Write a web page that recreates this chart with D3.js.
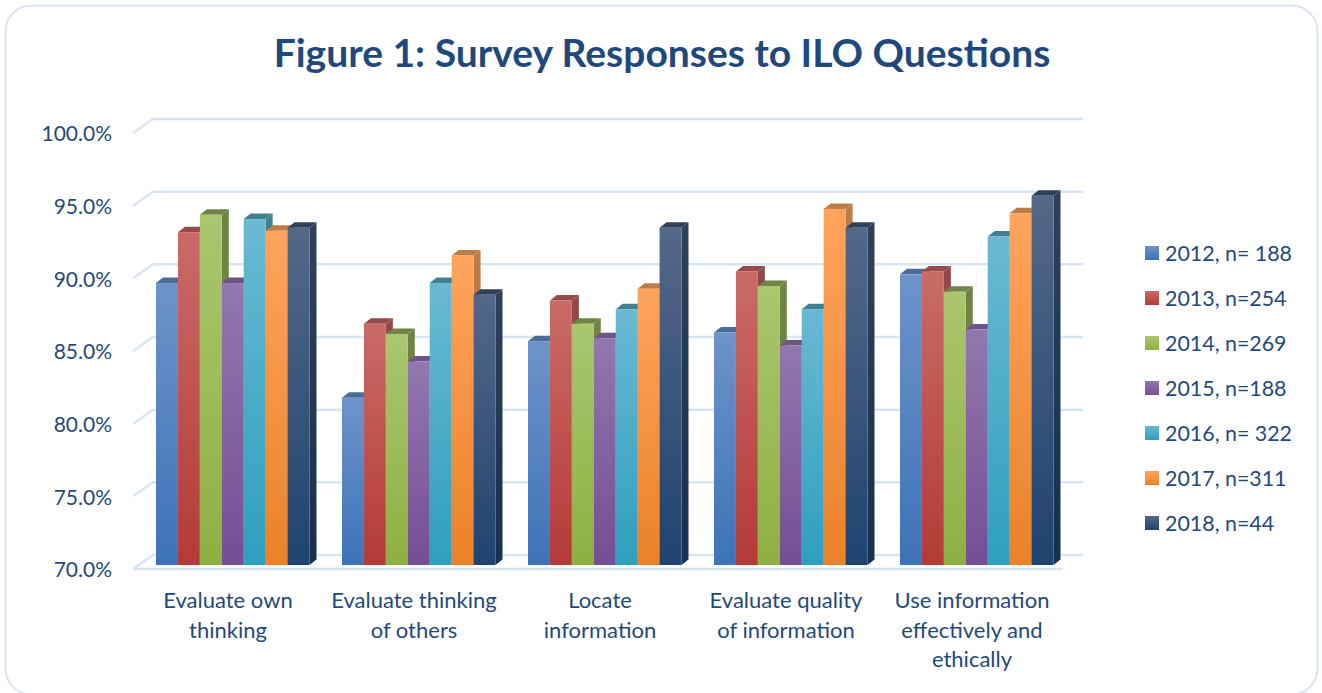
<!DOCTYPE html>
<html>
<head>
<meta charset="utf-8">
<script src="https://cdnjs.cloudflare.com/ajax/libs/d3/7.8.5/d3.min.js"></script>
<style>
  html, body { margin: 0; padding: 0; background: #fff; overflow: hidden; }
  text { font-family: Lato, "Open Sans", sans-serif; fill: #1f497d; }
</style>
</head>
<body>
<div id="chart"></div>
<script>
// Chart data
const categories = ["Evaluate own thinking", "Evaluate thinking of others", "Locate information", "Evaluate quality of information", "Use information effectively and ethically"];
const categoryLines = [
  ["Evaluate own", "thinking"],
  ["Evaluate thinking", "of others"],
  ["Locate", "information"],
  ["Evaluate quality", "of information"],
  ["Use information", "effectively and", "ethically"]
];
const seriesNames = ["2012, n= 188", "2013, n=254", "2014, n=269", "2015, n=188", "2016, n= 322", "2017, n=311", "2018, n=44"];
const values2012 = [89.4, 81.5, 85.4, 86.0, 90.0];
const values2013 = [92.9, 86.6, 88.2, 90.2, 90.2];
const values2014 = [94.1, 85.9, 86.6, 89.2, 88.8];
const values2015 = [89.4, 84.0, 85.6, 85.1, 86.2];
const values2016 = [93.8, 89.4, 87.6, 87.6, 92.6];
const values2017 = [93.0, 91.3, 89.0, 94.5, 94.2];
const values2018 = [93.2, 88.6, 93.2, 93.2, 95.4];
const seriesValues = [values2012, values2013, values2014, values2015, values2016, values2017, values2018];
const yTicks = [70, 75, 80, 85, 90, 95, 100];

// Colours per series: front top, front bottom, top face, side top, side bottom
const palette = [
  ["#6d93c9", "#3d73b8", "#4a6d98", "#4a6d98", "#2c5486"],
  ["#ca6b67", "#b43a37", "#95494a", "#95494a", "#842a28"],
  ["#aac66f", "#8eb042", "#6f8446", "#6f8446", "#64802f"],
  ["#9277ae", "#744e95", "#6c5586", "#6c5586", "#55386e"],
  ["#6ab9d2", "#2f9fbe", "#40808f", "#40808f", "#21758c"],
  ["#ffa45d", "#ea8228", "#bd7d49", "#bd7d49", "#b0601b"],
  ["#546888", "#1f4370", "#2f4159", "#2f4159", "#17304f"]
];

const width = 1322, height = 693;
const depthX = 7, depthY = 5.5;
const barOffset = 23, clusterWidth = 153.5;

const svg = d3.select("#chart").append("svg")
  .attr("width", width)
  .attr("height", height)
  .style("display", "block");

const defs = svg.append("defs");
palette.forEach((c, i) => {
  const front = defs.append("linearGradient").attr("id", `front${i}`).attr("x1", 0).attr("y1", 0).attr("x2", 0).attr("y2", 1);
  front.append("stop").attr("offset", "0%").attr("stop-color", c[0]);
  front.append("stop").attr("offset", "100%").attr("stop-color", c[1]);
  const side = defs.append("linearGradient").attr("id", `side${i}`).attr("x1", 0).attr("y1", 0).attr("x2", 0).attr("y2", 1);
  side.append("stop").attr("offset", "0%").attr("stop-color", c[3]);
  side.append("stop").attr("offset", "100%").attr("stop-color", c[4]);
});

// Outer rounded border
svg.append("rect")
  .attr("x", 5.5).attr("y", 5.5)
  .attr("width", 1312).attr("height", 689)
  .attr("rx", 26)
  .attr("fill", "#fff")
  .attr("stroke", "#d8e4f3")
  .attr("stroke-width", 2);

// Title
svg.append("text")
  .attr("x", 662).attr("y", 67)
  .attr("text-anchor", "middle")
  .attr("font-size", 39)
  .attr("font-weight", 700)
  .text("Figure 1: Survey Responses to ILO Questions");

// Scales. y is the front edge of the floor, bars sit a little behind it
const y = d3.scaleLinear().domain([70, 100]).range([569, 133]);
const x0 = d3.scaleBand().domain(categories).range([133, 1063]);
const x1 = d3.scaleBand().domain(seriesNames).range([0, clusterWidth]);
const barY = v => y(v) - 4;
const backDx = 20, backDy = 14;

// Grid lines with the angled part on the left wall
const grid = svg.append("g")
  .attr("fill", "none")
  .attr("stroke", "#dae5f3")
  .attr("stroke-width", 2.5);
yTicks.forEach(t => {
  const line = d3.line();
  grid.append("path").attr("d", line([
    [x0.range()[0], y(t)],
    [x0.range()[0] + backDx, y(t) - backDy],
    [x0.range()[1] + backDx, y(t) - backDy]
  ]));
});
// Floor front edge
grid.append("path").attr("d", d3.line()([
  [x0.range()[0], y(70)],
  [x0.range()[1], y(70)]
]));

// Y axis labels
const yAxis = svg.append("g")
  .attr("transform", "translate(117,1)")
  .call(d3.axisLeft(y).tickValues(yTicks).tickSize(0).tickPadding(5).tickFormat(d => d.toFixed(1) + "%"));
yAxis.select(".domain").remove();
yAxis.selectAll("text").attr("font-size", 21).attr("dy", "0.33em").style("fill", "#1f497d").style("font-family", "Lato");

// X axis labels
const xAxis = svg.append("g")
  .attr("transform", "translate(0,590)")
  .call(d3.axisBottom(x0).tickSize(0).tickPadding(0));
xAxis.select(".domain").remove();
xAxis.selectAll("text").each(function(d, i) {
  const label = d3.select(this).text(null).attr("y", 0).attr("dy", null)
    .attr("font-size", 22).style("fill", "#1f497d").style("font-family", "Lato");
  categoryLines[i].forEach((l, j) => {
    label.append("tspan").attr("x", 2).attr("y", 18 + j * 29.5).text(l);
  });
});

// 3D bars, drawn left to right so each front covers the previous side
const bars = svg.append("g");
categories.forEach((cat, c) => {
  seriesNames.forEach((name, s) => {
    const v = seriesValues[s][c];
    const left = x0(cat) + barOffset + x1(name);
    const right = left + x1.bandwidth();
    const top = barY(v);
    const base = barY(70);
    const g = bars.append("g");
    // side face
    g.append("path")
      .attr("d", d3.line()([[right, top], [right + depthX, top - depthY], [right + depthX, base - depthY], [right, base]]) + "Z")
      .attr("fill", `url(#side${s})`);
    // top face
    g.append("path")
      .attr("d", d3.line()([[left, top], [left + depthX, top - depthY], [right + depthX, top - depthY], [right, top]]) + "Z")
      .attr("fill", palette[s][2]);
    // front face
    g.append("rect")
      .attr("x", left).attr("y", top)
      .attr("width", x1.bandwidth()).attr("height", base - top)
      .attr("fill", `url(#front${s})`);
  });
});

// Legend
const legendY = d3.scalePoint().domain(seriesNames).range([253, 523]);
const legend = svg.append("g").selectAll("g").data(seriesNames).join("g")
  .attr("transform", d => `translate(1145,${legendY(d)})`);
legend.append("rect")
  .attr("x", 0).attr("y", -7)
  .attr("width", 14).attr("height", 14)
  .attr("fill", (d, i) => `url(#front${i})`);
legend.append("text")
  .attr("x", 20).attr("y", 7.5)
  .attr("font-size", 21.4)
  .text(d => d);
</script>
</body>
</html>
